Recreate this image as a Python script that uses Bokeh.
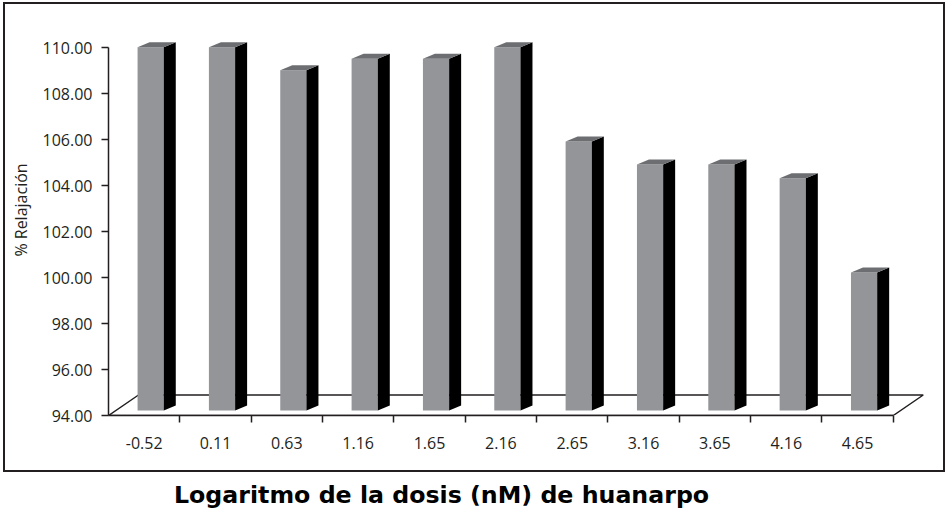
from bokeh.plotting import figure
from bokeh.layouts import column
from bokeh.models import (Range1d, FixedTicker, NumeralTickFormatter, LinearAxis,
                          ColumnDataSource, Div)
from bokeh.embed import file_html
from bokeh.resources import INLINE

# --- data -----------------------------------------------------------------
dose_labels = ["-0.52", "0.11", "0.63", "1.16", "1.65", "2.16",
               "2.65", "3.16", "3.65", "4.16", "4.65"]
relaxation = [109.8, 109.8, 108.8, 109.3, 109.3, 109.8,
              105.7, 104.7, 104.7, 104.1, 100.0]
y_ticks = [94, 96, 98, 100, 102, 104, 106, 108, 110]
x_title = "Logaritmo de la dosis (nM) de huanarpo"

# --- geometry (pixels) ----------------------------------------------------
BOX_W, BOX_H = 938, 466      # chart area inside the border
LEFT, RIGHT_PAD, BOTTOM = 103, 9, 55
PX_X = 71.34                 # pixels per category
PX_Y = 22.99                 # pixels per % unit
Y0 = 94.0

frame_w = BOX_W - LEFT - RIGHT_PAD
frame_h = BOX_H - BOTTOM

n = len(dose_labels)
xs = list(range(1, n + 1))

p = figure(width=BOX_W, height=BOX_H, output_backend="svg", toolbar_location=None,
           x_range=Range1d(0.5, 0.5 + frame_w / PX_X),
           y_range=Range1d(Y0, Y0 + frame_h / PX_Y),
           min_border_left=LEFT, min_border_right=RIGHT_PAD,
           min_border_top=0, min_border_bottom=BOTTOM,
           x_axis_type=None, y_axis_type=None)
p.grid.visible = False
p.outline_line_color = None
p.background_fill_color = "white"
p.border_fill_color = "white"

# pixel offsets converted to data units
def dx(px):
    return px / PX_X

def dy(px):
    return px / PX_Y

# floor of the 3D box
FLOOR_DX, FLOOR_DY = 30, 20.5
p.patch([0.5, n + 0.5, n + 0.5 + dx(FLOOR_DX), 0.5 + dx(FLOOR_DX)],
        [Y0, Y0, Y0 + dy(FLOOR_DY), Y0 + dy(FLOOR_DY)],
        fill_color="white", line_color="#231f20", line_width=1.5)

# bars: front face, top and right side
FRONT_DX, FRONT_DY = 6.5, 5
HALF_W = 13.1
DEPTH_DX, DEPTH_DY = 12, 5

L = [x - dx(HALF_W) + dx(FRONT_DX) for x in xs]
R = [x + dx(HALF_W) + dx(FRONT_DX) for x in xs]
B = [Y0 + dy(FRONT_DY)] * n
T = [v + dy(FRONT_DY) for v in relaxation]

src = ColumnDataSource(dict(left=L, right=R, bottom=B, top=T))
p.quad(left="left", right="right", bottom="bottom", top="top", source=src,
       fill_color="#939598", line_color=None)

side_x = [[r, r, r + dx(DEPTH_DX), r + dx(DEPTH_DX)] for r in R]
side_y = [[b, t, t + dy(DEPTH_DY), b + dy(DEPTH_DY)] for b, t in zip(B, T)]
p.patches(side_x, side_y, fill_color="#000000", line_color=None)

top_x = [[l, r, r + dx(DEPTH_DX), l + dx(DEPTH_DX)] for l, r in zip(L, R)]
top_y = [[t, t, t + dy(DEPTH_DY), t + dy(DEPTH_DY)] for t in T]
p.patches(top_x, top_y, fill_color="#6d6e71", line_color=None)

# value axis
yaxis = LinearAxis(ticker=FixedTicker(ticks=y_ticks, minor_ticks=[]),
                   formatter=NumeralTickFormatter(format="0.00"),
                   bounds=(Y0, 110), axis_label="% Relajación")
yaxis.axis_line_color = "#231f20"
yaxis.axis_line_width = 1.5
yaxis.major_tick_line_color = "#231f20"
yaxis.major_tick_line_width = 1.5
yaxis.major_tick_out = 7
yaxis.major_tick_in = 0
yaxis.major_label_standoff = 9
yaxis.major_label_text_font = "Open Sans"
yaxis.major_label_text_font_size = "16px"
yaxis.major_label_text_color = "#231f20"
yaxis.axis_label_text_font = "Open Sans"
yaxis.axis_label_text_font_size = "16px"
yaxis.axis_label_text_font_style = "normal"
yaxis.axis_label_text_color = "#231f20"
yaxis.axis_label_standoff = 8
p.add_layout(yaxis, "left")

# category axis: ticks between categories, labels at the centres
xaxis = LinearAxis(ticker=FixedTicker(ticks=xs,
                                      minor_ticks=[x + 0.5 for x in xs]),
                   bounds=(0.5, n + 0.5))
xaxis.major_label_overrides = {x: lab for x, lab in zip(xs, dose_labels)}
xaxis.axis_line_color = "#231f20"
xaxis.axis_line_width = 1.5
xaxis.major_tick_line_color = None
xaxis.minor_tick_line_color = "#231f20"
xaxis.minor_tick_line_width = 1.5
xaxis.minor_tick_out = 7
xaxis.minor_tick_in = 0
xaxis.major_label_standoff = 14
xaxis.major_label_text_font = "Open Sans"
xaxis.major_label_text_font_size = "16px"
xaxis.major_label_text_color = "#231f20"
p.add_layout(xaxis, "below")

# chart area framed by a thin border, axis title underneath
boxed = column(p, margin=(2, 0, 0, 3),
               styles={"border": "2px solid #231f20"})
title = Div(text=x_title, width=700, height=28, margin=(9, 0, 0, 174),
            styles={"font-family": "'DejaVu Sans'", "font-weight": "bold",
                    "font-size": "23.7px", "color": "black",
                    "white-space": "nowrap", "line-height": "28px"})
page = column(boxed, title, spacing=0)

open("out.html", "w").write(file_html(page, INLINE))
